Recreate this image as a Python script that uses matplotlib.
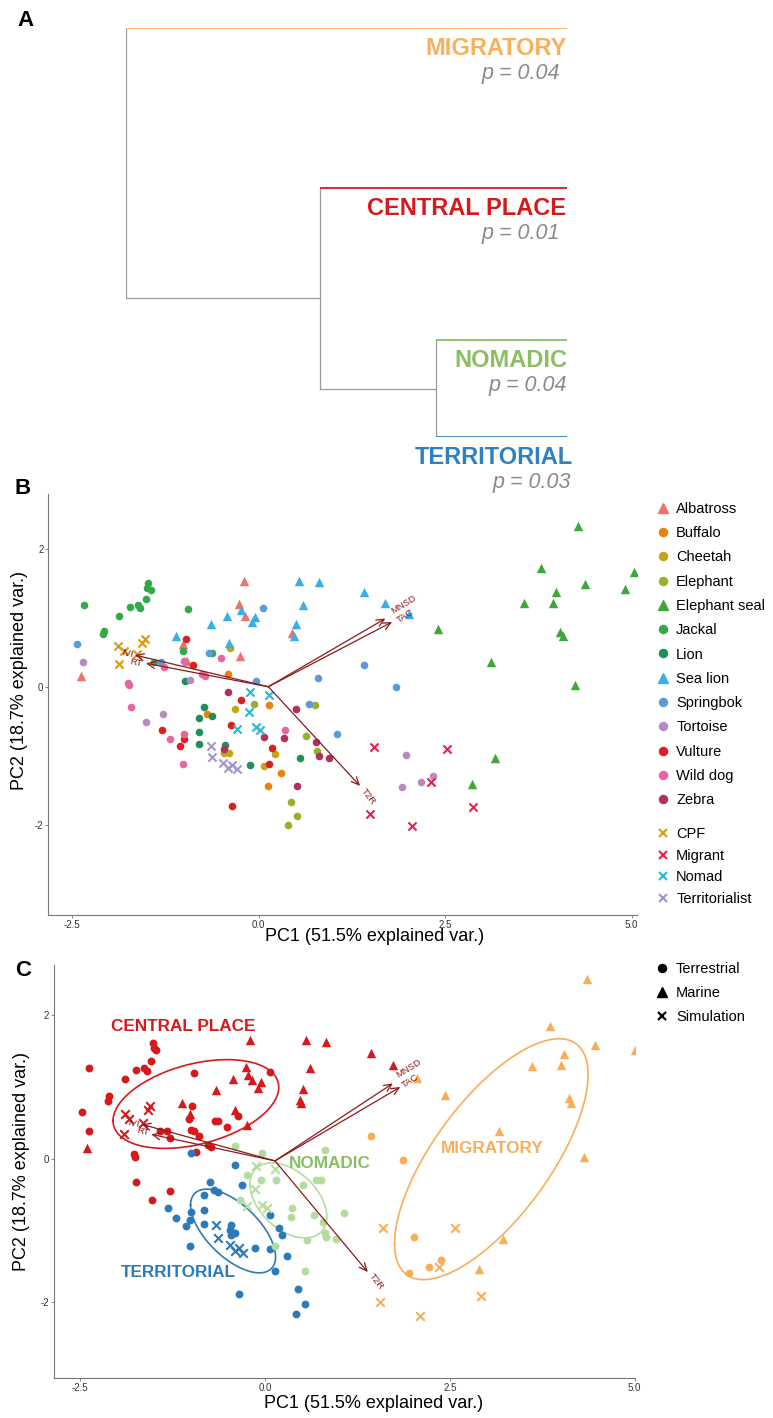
import numpy as np
import matplotlib
matplotlib.use("Agg")
from matplotlib import pyplot as plt
from matplotlib.lines import Line2D

plt.rcParams['font.family'] = ['Liberation Sans', 'DejaVu Sans']
plt.rcParams['axes.unicode_minus'] = False

W, H = 773, 1418

# ---------------- panel A: dendrogram of movement classes ----------------
leaves = ["MIGRATORY", "CENTRAL PLACE", "NOMADIC", "TERRITORIAL"]
leaf_colors = ["#F9B05C", "#D7191C", "#8CBE63", "#2F80C0"]
pvalues = [0.04, 0.01, 0.04, 0.03]
leaf_y = [0.0, 1.60, 3.12, 4.09]
merge_height = {"root": 1.0, "cp": 0.56, "nt": 0.297}
node_y = {"cp": 2.70, "nt": 3.605}

# ---------------- panel B: PCA by species ----------------
species = ["Albatross", "Buffalo", "Cheetah", "Elephant", "Elephant seal", "Jackal",
           "Lion", "Sea lion", "Springbok", "Tortoise", "Vulture", "Wild dog", "Zebra"]
species_colors = ["#F0716A", "#E8820C", "#C4A516", "#9CAF2A", "#3DA83A", "#33A94A",
                  "#1F8F5C", "#3AAEE6", "#5A9BD8", "#B98AC2", "#E01E1E", "#E865A0", "#B0305E"]
species_marine = ["Albatross", "Elephant seal", "Sea lion"]

ALBATROSS = [(-0.20, 1.54), (-0.26, 1.20), (-0.18, 1.03), (-1.01, 0.62), (-0.25, 0.45),
             (0.45, 0.78), (-2.38, 0.16), (-0.96, 0.38)]
BUFFALO = [(-0.41, 0.18), (-0.69, -0.39), (0.14, -0.27), (0.30, -1.25), (0.12, -1.44)]
CHEETAH = [(-0.38, 0.56), (-0.31, -0.33), (-0.46, -0.96), (-0.40, -0.96), (0.07, -1.15), (0.22, -0.98)]
ELEPHANT = [(-0.06, -0.25), (0.75, -0.27), (0.64, -0.71), (0.78, -0.93), (0.43, -1.68),
            (0.52, -1.87), (0.40, -2.00)]
ELEPHANT_SEAL = [(4.28, 2.33), (3.79, 1.73), (5.03, 1.67), (4.38, 1.49), (3.98, 1.37), (4.91, 1.42),
                 (3.56, 1.21), (3.94, 1.22), (4.04, 0.79), (4.08, 0.73), (2.41, 0.84), (3.12, 0.36),
                 (4.24, 0.03), (3.17, -1.03), (2.86, -1.41)]
JACKAL = [(-1.48, 1.50), (-1.50, 1.44), (-1.44, 1.41), (-1.51, 1.27), (-1.62, 1.18), (-1.59, 1.14),
          (-1.72, 1.15), (-1.87, 1.03), (-2.34, 1.18), (-2.07, 0.81), (-2.09, 0.76), (-0.95, 1.13),
          (-1.01, 0.52), (-0.62, 0.49), (-1.40, 0.36)]
LION = [(-0.99, 0.08), (-0.73, -0.30), (-0.80, -0.45), (-0.62, -0.43), (-0.80, -0.65),
        (-0.80, -0.83), (-0.45, -0.84), (-0.12, -1.14), (0.56, -1.04)]
SEA_LION = [(0.54, 1.54), (0.81, 1.52), (1.41, 1.38), (1.70, 1.22), (2.01, 1.06), (0.60, 1.18),
            (0.50, 0.91), (0.48, 0.74), (-0.05, 1.01), (-0.09, 0.94), (-0.43, 1.03), (-0.40, 0.64),
            (-0.64, 0.91), (-1.11, 0.73), (-0.23, 1.11)]
SPRINGBOK = [(-2.43, 0.62), (-1.31, 0.36), (-0.67, 0.49), (0.06, 1.14), (-0.04, 0.08), (1.41, 0.32),
             (0.79, 0.13), (1.84, 0.00), (0.68, -0.25), (1.05, -0.69)]
TORTOISE = [(-2.35, 0.36), (-0.92, 0.10), (-1.28, -0.40), (-1.51, -0.51), (1.98, -0.99),
            (2.18, -1.38), (1.92, -1.46), (2.34, -1.30)]
VULTURE = [(-0.97, 0.69), (-0.88, 0.31), (-0.23, -0.19), (-0.37, -0.56), (0.18, -0.89),
           (0.14, -1.12), (-1.30, -0.63), (-1.00, -0.76), (-1.06, -0.86), (-0.35, -1.73)]
WILD_DOG = [(-1.75, 0.06), (-1.74, 0.03), (-1.71, -0.30), (-1.27, 0.29), (-1.19, -0.76),
            (-1.00, -0.68), (-1.01, -1.12), (-1.00, 0.38), (-0.76, 0.19), (-0.72, 0.16),
            (-0.51, 0.42), (0.35, -0.63)]
ZEBRA = [(-0.41, -0.07), (-0.46, -0.90), (0.07, -0.73), (0.34, -0.74), (0.50, -0.32),
         (0.77, -0.80), (0.81, -1.00), (0.94, -1.03), (0.52, -1.44)]
species_points = [ALBATROSS, BUFFALO, CHEETAH, ELEPHANT, ELEPHANT_SEAL, JACKAL, LION,
                  SEA_LION, SPRINGBOK, TORTOISE, VULTURE, WILD_DOG, ZEBRA]

sims = ["CPF", "Migrant", "Nomad", "Territorialist"]
sim_colors = ["#D89A10", "#E8204A", "#25B8D8", "#A594CC"]
CPF = [(-1.88, 0.59), (-1.81, 0.52), (-1.87, 0.33), (-1.63, 0.48), (-1.56, 0.64), (-1.52, 0.69)]
MIGRANT = [(1.55, -0.88), (2.52, -0.90), (2.31, -1.39), (1.49, -1.84), (2.05, -2.02), (2.87, -1.75)]
NOMAD = [(-0.12, -0.08), (0.14, -0.12), (-0.13, -0.37), (-0.29, -0.61), (-0.04, -0.59), (0.02, -0.63)]
TERRITORIALIST = [(-0.64, -0.86), (-0.63, -1.02), (-0.48, -1.10), (-0.35, -1.14), (-0.41, -1.18),
                  (-0.29, -1.19)]
sim_points = [CPF, MIGRANT, NOMAD, TERRITORIALIST]

# biplot loadings
var_names = ["MNSD", "TAC", "RT", "IVI", "T2R"]
b_origin = (0.13, 0.0)
b_tips = [(1.70, 0.99), (1.79, 0.94), (-1.51, 0.34), (-1.66, 0.46), (1.36, -1.44)]
b_labels = [(1.95, 1.19, 32), (1.96, 1.02, 32), (-1.64, 0.35, -11), (-1.76, 0.48, -11), (1.47, -1.59, -52)]

# ---------------- panel C: PCA by movement class ----------------
groups = ["CENTRAL PLACE", "TERRITORIAL", "NOMADIC", "MIGRATORY"]
group_colors = ["#D7191C", "#2B7BBA", "#B5DCA0", "#F9AD58"]
group_text_colors = ["#D7191C", "#2B7BBA", "#86BE63", "#F9AD58"]
group_text_xy = [(-1.11, 1.84), (-1.18, -1.59), (0.88, -0.06), (3.07, 0.14)]

CP_CIRCLE = [(-2.38, 1.26), (-2.47, 0.65), (-2.38, 0.38), (-2.12, 0.80), (-2.11, 0.87), (-1.90, 1.11),
             (-1.75, 1.23), (-1.64, 1.26), (-1.60, 1.22), (-1.54, 1.36), (-1.51, 1.61), (-1.50, 1.55),
             (-1.47, 1.52), (-0.96, 1.20), (-0.99, 0.73), (-1.03, 0.55), (-0.68, 0.52), (-0.63, 0.52),
             (-0.51, 0.44), (-0.37, 0.60), (0.07, 1.21), (-1.00, 0.40), (-0.96, 0.38), (-0.89, 0.32),
             (-1.42, 0.38), (-1.33, 0.38), (-1.29, 0.29), (-0.77, 0.19), (-0.73, 0.16), (-0.93, 0.10),
             (-1.77, 0.06), (-1.76, 0.03), (-1.74, -0.33), (-1.29, -0.45), (-1.53, -0.57)]
CP_TRIANGLE = [(-0.20, 1.65), (0.55, 1.65), (0.82, 1.63), (1.44, 1.47), (1.73, 1.31), (0.61, 1.26),
               (-0.26, 1.28), (-0.23, 1.17), (-0.18, 1.10), (-0.05, 1.07), (-0.09, 0.99), (-0.43, 1.11),
               (-0.66, 0.96), (-1.12, 0.77), (-1.02, 0.63), (-0.40, 0.68), (-0.25, 0.47), (0.51, 0.97),
               (0.47, 0.82), (0.49, 0.77), (-2.41, 0.15)]
CP_CROSS = [(-1.90, 0.63), (-1.84, 0.55), (-1.58, 0.68), (-1.55, 0.74), (-1.65, 0.50), (-1.91, 0.34)]

TE_CIRCLE = [(-1.00, 0.08), (-0.41, -0.09), (-0.31, -0.37), (-0.74, -0.33), (-0.69, -0.43),
             (-0.63, -0.47), (-0.82, -0.51), (-0.82, -0.72), (-1.00, -0.74), (-1.01, -0.85),
             (-1.20, -0.83), (-1.31, -0.69), (-1.07, -0.94), (-0.82, -0.91), (-1.02, -1.22),
             (-0.46, -0.92), (-0.48, -0.99), (-0.43, -1.04), (-0.40, -1.04), (-0.46, -1.06),
             (-0.13, -1.24), (0.07, -0.79), (0.19, -0.96), (0.23, -1.06), (0.07, -1.26), (0.30, -1.35),
             (0.13, -1.56), (-0.35, -1.89), (0.44, -1.82), (0.54, -2.03), (0.42, -2.17)]
TE_TRIANGLE = []
TE_CROSS = [(-0.66, -0.93), (-0.63, -1.11), (-0.48, -1.20), (-0.41, -1.28), (-0.35, -1.24), (-0.30, -1.31)]

NO_CIRCLE = [(-0.40, 0.18), (-0.04, 0.08), (0.81, 0.12), (-0.24, -0.22), (-0.05, -0.29), (0.15, -0.30),
             (0.51, -0.37), (0.69, -0.29), (0.76, -0.30), (-0.34, -0.58), (0.36, -0.69), (0.35, -0.81),
             (0.66, -0.78), (0.78, -0.88), (1.07, -0.76), (0.81, -1.03), (0.82, -1.09), (0.57, -1.13),
             (0.96, -1.12), (0.14, -1.22), (0.54, -1.56)]
NO_TRIANGLE = []
NO_CROSS = [(-0.12, -0.10), (0.14, -0.14), (-0.13, -0.42), (-0.25, -0.66), (-0.04, -0.65), (0.02, -0.68)]

MI_CIRCLE = [(1.43, 0.32), (1.87, -0.02), (2.01, -1.09), (1.95, -1.59), (2.22, -1.51), (2.38, -1.41)]
MI_TRIANGLE = [(4.35, 2.50), (3.85, 1.85), (5.11, 1.78), (4.46, 1.58), (5.00, 1.51), (4.05, 1.46),
               (3.61, 1.29), (4.00, 1.31), (4.11, 0.84), (4.14, 0.77), (2.44, 0.89), (3.17, 0.38),
               (4.31, 0.02), (3.22, -1.12), (2.90, -1.54), (2.05, 1.13)]
MI_CROSS = [(1.59, -0.96), (2.57, -0.97), (2.36, -1.51), (2.92, -1.91), (2.09, -2.19), (1.55, -1.99)]

group_points = [(CP_CIRCLE, CP_TRIANGLE, CP_CROSS), (TE_CIRCLE, TE_TRIANGLE, TE_CROSS),
                (NO_CIRCLE, NO_TRIANGLE, NO_CROSS), (MI_CIRCLE, MI_TRIANGLE, MI_CROSS)]

c_origin = (0.135, -0.03)
c_tips = [(1.73, 1.05), (1.83, 1.00), (-1.54, 0.34), (-1.67, 0.48), (1.39, -1.58)]
c_labels = [(1.95, 1.26, 32), (1.96, 1.09, 32), (-1.65, 0.38, -11), (-1.78, 0.49, -11), (1.50, -1.71, -52)]

ARROW_COL = "#8B1A1A"
ELLIPSE_PROB = 0.5


def box(x0, y0, x1, y1):
    return [x0 / W, 1 - y1 / H, (x1 - x0) / W, (y1 - y0) / H]


def style_axes(ax):
    for s in ["top", "right"]:
        ax.spines[s].set_visible(False)
    for s in ["left", "bottom"]:
        ax.spines[s].set_color("#777777")
        ax.spines[s].set_linewidth(0.8)
    ax.tick_params(direction="out", length=2.5, width=0.6, color="#777777",
                   labelsize=7, labelcolor="#333333", pad=1)


def draw_arrows(ax, origin, tips, labels):
    for name, tip, (lx, ly, rot) in zip(var_names, tips, labels):
        ax.annotate("", xy=tip, xytext=origin,
                    arrowprops=dict(arrowstyle="->,head_length=0.55,head_width=0.25",
                                    color=ARROW_COL, lw=0.9, shrinkA=0, shrinkB=0))
        ax.text(lx, ly, name, color=ARROW_COL, fontsize=6.8, rotation=rot,
                ha="center", va="center")


def xy(pts):
    a = np.array(pts, dtype=float).reshape(-1, 2)
    return a[:, 0], a[:, 1]


def ellipse(pts, prob=ELLIPSE_PROB):
    a = np.array(pts, dtype=float)
    mu = a.mean(axis=0)
    sigma = np.cov(a, rowvar=False)
    ed = np.sqrt(-2 * np.log(1 - prob))
    theta = np.linspace(-np.pi, np.pi, 200)
    circle = np.column_stack([np.cos(theta), np.sin(theta)])
    L = np.linalg.cholesky(sigma)
    return circle @ L.T * ed + mu


fig = plt.figure(figsize=(W / 100, H / 100), dpi=100)

# ---- A ----
axA = fig.add_axes(box(126, 28, 567, 437))
axA.set_xlim(1.0, 0.0)
axA.set_ylim(leaf_y[-1], leaf_y[0])
axA.axis("off")
gray = "#9A9A9A"
axA.plot([merge_height["root"]] * 2, [leaf_y[0], node_y["cp"]], color=gray, lw=0.9)
axA.plot([merge_height["root"], merge_height["cp"]], [node_y["cp"]] * 2, color=gray, lw=0.9)
axA.plot([merge_height["cp"]] * 2, [leaf_y[1], node_y["nt"]], color=gray, lw=0.9)
axA.plot([merge_height["cp"], merge_height["nt"]], [node_y["nt"]] * 2, color=gray, lw=0.9)
axA.plot([merge_height["nt"]] * 2, [leaf_y[2], leaf_y[3]], color=gray, lw=0.9)
leaf_start = [merge_height["root"], merge_height["cp"], merge_height["nt"], merge_height["nt"]]
p_shift = [-5, -5, 0, 3]
name_shift = [0, -1, 0, 4]
for name, col, p, y0, x0, dx, nx in zip(leaves, leaf_colors, pvalues, leaf_y, leaf_start,
                                        p_shift, name_shift):
    axA.plot([x0, 0.0], [y0, y0], color=col, lw=1.3, solid_capstyle="butt")
    axA.annotate(name, xy=(0.0, y0 + 0.20), xytext=(nx, 0), textcoords="offset points",
                 color=col, fontsize=17, fontweight="bold", ha="right", va="center",
                 annotation_clip=False)
    axA.annotate(f"p = {p:.2f}", xy=(0.0, y0 + 0.45), xytext=(dx, 0),
                 textcoords="offset points", color="#8A8A8A", fontsize=15.5,
                 fontstyle="italic", ha="right", va="center", annotation_clip=False)

# ---- B ----
axB = fig.add_axes(box(48.3, 494, 636.7, 915))
style_axes(axB)
for name, col, pts in zip(species, species_colors, species_points):
    x, y = xy(pts)
    if name in species_marine:
        axB.scatter(x, y, s=46, marker="^", color=col, linewidths=0, zorder=3)
    else:
        axB.scatter(x, y, s=30, marker="o", color=col, linewidths=0, zorder=3)
for name, col, pts in zip(sims, sim_colors, sim_points):
    x, y = xy(pts)
    axB.scatter(x, y, s=34, marker="x", color=col, linewidths=1.5, zorder=3)
draw_arrows(axB, b_origin, b_tips, b_labels)
axB.set_xlim(-2.819, 5.068)
axB.set_ylim(-3.313, 2.797)
axB.set_xticks([-2.5, 0.0, 2.5, 5.0])
axB.set_xticklabels(["-2.5", "0.0", "2.5", "5.0"])
axB.set_yticks([-2, 0, 2])
axB.set_xlabel("PC1 (51.5% explained var.)", fontsize=13)
axB.set_ylabel("PC2 (18.7% explained var.)", fontsize=13)
axB.xaxis.set_label_coords(0.554, -0.031)
axB.yaxis.set_label_coords(-0.034, 0.556)

h1 = [Line2D([], [], ls="", marker="^" if n in species_marine else "o", color=c,
             markersize=6.5 if n in species_marine else 5.8) for n, c in zip(species, species_colors)]
fig.legend(h1, species, loc="upper left", bbox_to_anchor=(0.8483, 0.6461),
           frameon=False, fontsize=10.5, handlelength=1.0, handletextpad=0.4,
           labelspacing=0.705, borderpad=0, borderaxespad=0)
h2 = [Line2D([], [], ls="", marker="x", color=c, markersize=6, markeredgewidth=1.5) for c in sim_colors]
fig.legend(h2, sims, loc="upper left", bbox_to_anchor=(0.8483, 0.4169),
           frameon=False, fontsize=10.5, handlelength=1.0, handletextpad=0.4,
           labelspacing=0.535, borderpad=0, borderaxespad=0)

# ---- C ----
axC = fig.add_axes(box(54, 965, 635, 1377.7))
style_axes(axC)
for (circ, tri, cross), col in zip(group_points, group_colors):
    if circ:
        x, y = xy(circ)
        axC.scatter(x, y, s=32, marker="o", color=col, linewidths=0, zorder=3)
    if tri:
        x, y = xy(tri)
        axC.scatter(x, y, s=46, marker="^", color=col, linewidths=0, zorder=3)
    if cross:
        x, y = xy(cross)
        axC.scatter(x, y, s=38, marker="x", color=col, linewidths=1.5, zorder=3)
    ell = ellipse(list(circ) + list(tri) + list(cross))
    axC.plot(ell[:, 0], ell[:, 1], color=col, lw=1.2, zorder=2)
draw_arrows(axC, c_origin, c_tips, c_labels)
for name, col, (tx, ty) in zip(groups, group_text_colors, group_text_xy):
    axC.text(tx, ty, name, color=col, fontsize=12.3, fontweight="bold",
             ha="center", va="center", zorder=4)
axC.set_xlim(-2.855, 5.005)
axC.set_ylim(-3.052, 2.700)
axC.set_xticks([-2.5, 0.0, 2.5, 5.0])
axC.set_xticklabels(["-2.5", "0.0", "2.5", "5.0"])
axC.set_yticks([-2, 0, 2])
axC.set_xlabel("PC1 (51.5% explained var.)", fontsize=13)
axC.set_ylabel("PC2 (18.7% explained var.)", fontsize=13)
axC.xaxis.set_label_coords(0.550, -0.042)
axC.yaxis.set_label_coords(-0.041, 0.525)

h3 = [Line2D([], [], ls="", marker="o", color="black", markersize=5.8),
      Line2D([], [], ls="", marker="^", color="black", markersize=7),
      Line2D([], [], ls="", marker="x", color="black", markersize=6, markeredgewidth=1.6)]
fig.legend(h3, ["Terrestrial", "Marine", "Simulation"], loc="upper left",
           bbox_to_anchor=(0.8466, 0.3217), frameon=False, fontsize=10.5,
           handlelength=1.0, handletextpad=0.48, labelspacing=0.695, borderpad=0, borderaxespad=0)

# panel letters
for letter, (px, py) in zip("ABC", [(26, 21), (23, 489), (23, 970)]):
    fig.text(px / W, 1 - py / H, letter, fontsize=16, fontweight="bold", ha="center", va="center")

fig.savefig("out.png", dpi=100)
